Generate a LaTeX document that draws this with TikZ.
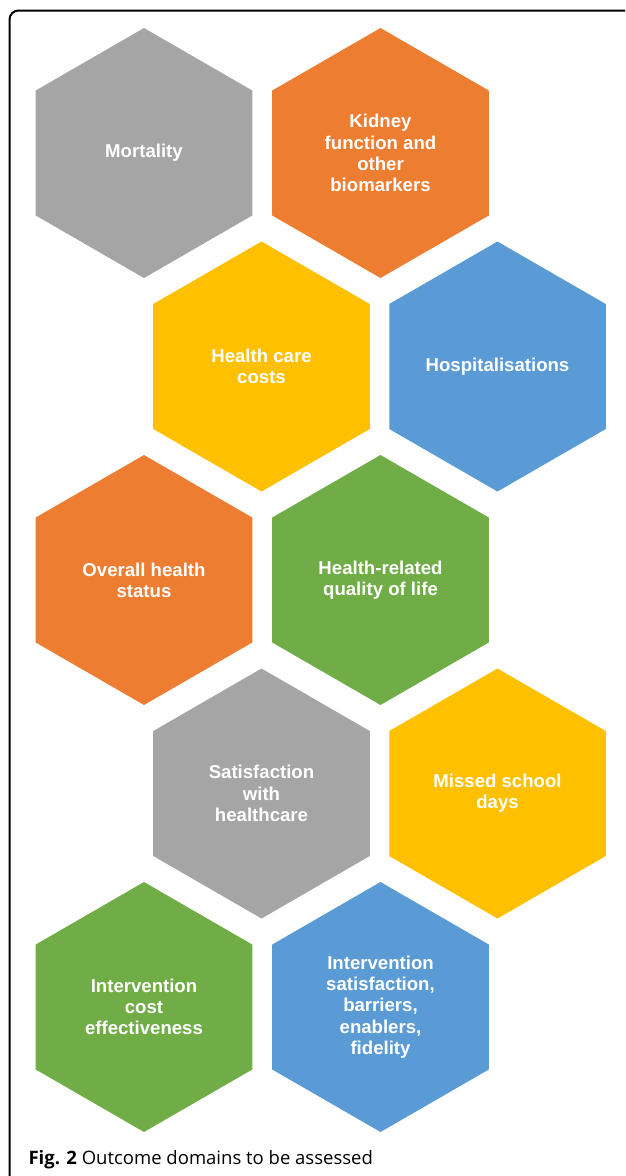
\documentclass[tikz,border=0pt]{standalone}
\usepackage{fontspec}
\setmainfont{Liberation Sans}
\newfontfamily\capfont{Open Sans}
\usetikzlibrary{shapes.geometric}
\definecolor{hgray}{HTML}{A5A5A5}
\definecolor{horange}{HTML}{ED7D31}
\definecolor{hyellow}{HTML}{FFC000}
\definecolor{hblue}{HTML}{5B9BD5}
\definecolor{hgreen}{HTML}{70AD47}
\tikzset{
  hex/.style={regular polygon, regular polygon sides=6, shape border rotate=30,
    minimum size=250pt, inner sep=0pt, draw=none, fill=#1, text=white,
    font=\fontsize{18.6}{21.3}\selectfont\bfseries, align=center}
}
\begin{document}
\begin{tikzpicture}[x=1pt,y=-1pt]
      \useasboundingbox (0,0) rectangle (625,1176);
      \draw[line width=2pt, rounded corners=9pt] (9.5,1176) -- (9.5,10.5) -- (625,10.5);
      \draw
        (144,153) node[hex=hgray] (0){Mortality}
        (380.5,153) node[hex=horange] (1){Kidney\\function and\\other\\biomarkers}
        (261.5,366.5) node[hex=hyellow] (2){Health care\\costs}
        (497.5,366.5) node[hex=hblue] (3){Hospitalisations}
        (144,580) node[hex=horange] (4){Overall health\\status}
        (380.5,580) node[hex=hgreen] (5){Health-related\\quality of life}
        (261.5,793.5) node[hex=hgray] (6){Satisfaction\\with\\healthcare}
        (497.5,793.5) node[hex=hyellow] (7){Missed school\\days}
        (144,1007) node[hex=hgreen] (8){Intervention\\cost\\effectiveness}
        (380.5,1007) node[hex=hblue] (9){Intervention\\satisfaction,\\barriers,\\enablers,\\fidelity};
      \node[anchor=base west, font=\capfont\fontsize{18.5}{22}\selectfont] (cap) at (25,1164)
        {\textbf{Fig. 2} Outcome domains to be assessed};
    \end{tikzpicture}
\end{document}
